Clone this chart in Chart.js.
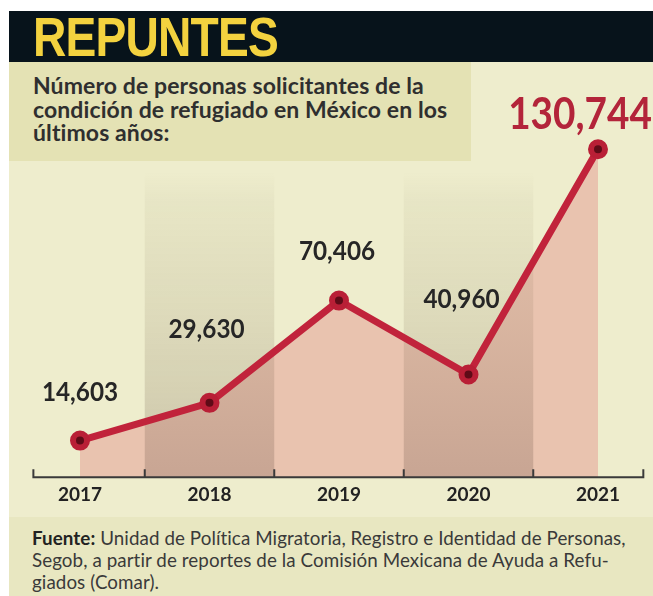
<!DOCTYPE html>
<html lang="es">
<head>
<meta charset="utf-8">
<title>Repuntes</title>
<script src="https://cdn.jsdelivr.net/npm/chart.js@4.4.1/dist/chart.umd.min.js"></script>
<style>
  html, body { margin: 0; padding: 0; background: #fff; }
  body { width: 653px; height: 596px; position: relative; overflow: hidden; font-family: Lato, "Open Sans", sans-serif; }
  .panel { position: absolute; left: 9px; top: 11px; right: 0; bottom: 0; background: #eeedcd; }
  .header { position: absolute; left: 9px; top: 11px; right: 0; height: 51px; background: #07131b; }
  .header h1 { position: absolute; left: 24px; top: -0.6px; margin: 0; font: bold 55px/55px "Liberation Sans", sans-serif; color: #f3d23f; transform: scaleX(0.84); transform-origin: left center; letter-spacing: -1px; }
  .subtitle { position: absolute; left: 9px; top: 62px; width: 462px; height: 99px; background: #e4e2b4; }
  .subtitle p { position: absolute; left: 24px; top: 12.2px; margin: 0; font-size: 23px; font-weight: bold; letter-spacing: 0.1px; line-height: 23.5px; color: #2f2f2f; white-space: nowrap; }
  .footer { position: absolute; left: 9px; top: 517px; right: 0; bottom: 0; background: #e8e7c1; }
  .footer p { position: absolute; left: 23px; top: 9.7px; margin: 0; font-size: 18.8px; letter-spacing: 0.07px; line-height: 22px; color: #3a3a3a; white-space: nowrap; }
  .footer b { color: #222; }
  #wrap { position: absolute; left: 0; top: 0; width: 653px; height: 596px; }
</style>
</head>
<body>
<div class="panel"></div>
<div class="header"><h1>REPUNTES</h1></div>
<div class="subtitle"><p>Número de personas solicitantes de la<br>condición de refugiado en México en los<br>últimos años:</p></div>
<div class="footer"><p><b>Fuente:</b> Unidad de Política Migratoria, Registro e Identidad de Personas,<br>Segob, a partir de reportes de la Comisión Mexicana de Ayuda a Refu-<br>giados (Comar).</p></div>
<div id="wrap"><canvas id="myChart" width="653" height="596"></canvas></div>
<script>
const years = ['2017', '2018', '2019', '2020', '2021'];
const solicitantes = [14603, 29630, 70406, 40960, 130744];
// where each number label sits relative to its point (px)
const labelNudge = [[0, -40], [-3, -65], [-2, -41], [-7, -66], [-18, -20]];

const bandsAndLabels = {
    id: 'bandsAndLabels',
    beforeDatasetsDraw(chart) {
        const { ctx, chartArea } = chart;
        const x = chart.scales.x;
        const step = x.getPixelForValue(1) - x.getPixelForValue(0);
        const top = chartArea.top + 46;
        const bottom = chartArea.bottom;
        const g = ctx.createLinearGradient(0, top, 0, bottom);
        g.addColorStop(0, 'rgba(110,95,60,0)');
        g.addColorStop(0.1, 'rgba(110,95,60,0.05)');
        g.addColorStop(0.5, 'rgba(105,85,60,0.13)');
        g.addColorStop(1, 'rgba(95,70,60,0.24)');
        ctx.save();
        ctx.fillStyle = g;
        years.forEach((_, i) => {
            if (i % 2 === 0) return;
            const c = x.getPixelForValue(i);
            ctx.fillRect(c - step / 2, top, step, bottom - top);
        });
        ctx.restore();
    },
    afterDatasetsDraw(chart) {
        const { ctx, chartArea } = chart;
        const x = chart.scales.x;
        const step = x.getPixelForValue(1) - x.getPixelForValue(0);
        const yb = chartArea.bottom;
        const left = x.getPixelForValue(0) - 0.36 * step;
        const right = x.getPixelForValue(years.length - 1) + 0.35 * step;

        // axis line with small upward ticks
        ctx.save();
        ctx.strokeStyle = '#3a3a3a';
        ctx.lineWidth = 2;
        ctx.beginPath();
        ctx.moveTo(left, yb - 8);
        ctx.lineTo(left, yb);
        ctx.lineTo(right, yb);
        ctx.lineTo(right, yb - 8);
        for (let i = 0; i < years.length - 1; i++) {
            const m = x.getPixelForValue(i) + step / 2;
            ctx.moveTo(m, yb);
            ctx.lineTo(m, yb - 8);
        }
        ctx.stroke();

        // value labels
        const meta = chart.getDatasetMeta(0);
        meta.data.forEach((pt, i) => {
            const last = i === solicitantes.length - 1;
            ctx.save();
            ctx.translate(pt.x + labelNudge[i][0], pt.y + labelNudge[i][1]);
            ctx.scale(0.9, 1);
            ctx.font = last ? 'bold 43px Lato' : 'bold 27px Lato';
            ctx.fillStyle = last ? '#b3243a' : '#262626';
            ctx.textAlign = 'center';
            ctx.textBaseline = 'alphabetic';
            ctx.fillText(solicitantes[i].toLocaleString('en-US'), 0, 0);
            ctx.restore();
        });
        ctx.restore();
    }
};

const ctx = document.getElementById('myChart').getContext('2d');
const myChart = new Chart(ctx, {
    type: 'line',
    data: {
        labels: years,
        datasets: [{
            data: solicitantes,
            fill: 'origin',
            backgroundColor: '#e9c3af',
            borderColor: '#c1233b',
            borderWidth: 7,
            borderJoinStyle: 'round',
            borderCapStyle: 'round',
            tension: 0,
            pointRadius: 7,
            pointBorderWidth: 6,
            pointBackgroundColor: '#5e0b17',
            pointBorderColor: '#b91f36',
            clip: false
        }]
    },
    options: {
        responsive: false,
        animation: false,
        layout: {
            padding: { left: 80, right: 55, top: 126, bottom: 84 }
        },
        plugins: {
            legend: false,
            tooltip: { enabled: false },
            filler: { drawTime: 'beforeDatasetsDraw' }
        },
        scales: {
            x: {
                offset: false,
                grid: { display: false, drawTicks: false },
                border: { display: false },
                ticks: {
                    color: '#222',
                    padding: 6,
                    font: { family: 'Lato', weight: 'bold', size: 19 }
                }
            },
            y: {
                display: false,
                min: 0,
                max: 140000
            }
        }
    },
    plugins: [bandsAndLabels]
});
</script>
</body>
</html>
